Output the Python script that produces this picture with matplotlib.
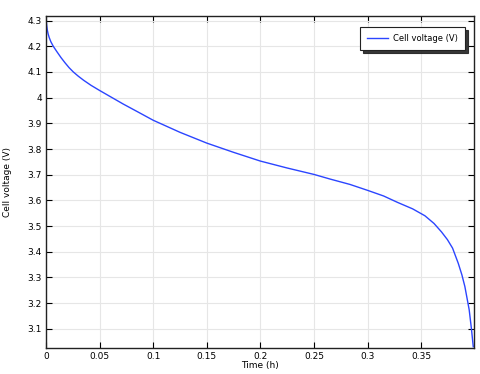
import matplotlib
matplotlib.use("Agg")
import matplotlib.pyplot as plt

# discharge curve
time_h = [0.0, 0.0003, 0.0007, 0.0012, 0.002, 0.003, 0.0045, 0.0068, 0.01,
          0.014, 0.0177, 0.0215, 0.0255, 0.03, 0.035, 0.042, 0.05, 0.06,
          0.0721, 0.085, 0.1, 0.125, 0.15, 0.175, 0.2, 0.225, 0.25,
          0.265, 0.2836, 0.3, 0.315, 0.328, 0.342, 0.3535, 0.362, 0.369,
          0.3745, 0.3793, 0.3846, 0.388, 0.3908, 0.3948, 0.397, 0.3986]
voltage = [4.318, 4.298, 4.28, 4.264, 4.248, 4.234, 4.218, 4.20, 4.18,
           4.156, 4.136, 4.117, 4.10, 4.084, 4.068, 4.048, 4.028, 4.004,
           3.975, 3.946, 3.912, 3.865, 3.823, 3.787, 3.753, 3.726, 3.701,
           3.683, 3.662, 3.639, 3.617, 3.592, 3.567, 3.54, 3.51, 3.477,
           3.447, 3.414, 3.355, 3.31, 3.264, 3.174, 3.096, 3.03]

x_ticks = [0, 0.05, 0.1, 0.15, 0.2, 0.25, 0.3, 0.35]
x_labels = ["0", "0.05", "0.1", "0.15", "0.2", "0.25", "0.3", "0.35"]
y_ticks = [3.1, 3.2, 3.3, 3.4, 3.5, 3.6, 3.7, 3.8, 3.9, 4.0, 4.1, 4.2, 4.3]
y_labels = ["3.1", "3.2", "3.3", "3.4", "3.5", "3.6", "3.7", "3.8", "3.9",
            "4", "4.1", "4.2", "4.3"]

fig = plt.figure(figsize=(4.81, 3.74), dpi=100)
ax = fig.add_axes([46 / 481, 1 - 348 / 374, 428 / 481, 332 / 374])

ax.plot(time_h, voltage, color="#2b45ff", lw=1.0, label="Cell voltage (V)")

ax.set_xlim(0, 0.3993)
ax.set_ylim(3.025, 4.318)
ax.set_xticks(x_ticks, x_labels)
ax.set_yticks(y_ticks, y_labels)
ax.tick_params(direction="in", top=True, right=True, labelsize=6.5,
               length=4, width=0.8, pad=3)
ax.grid(True, color="#e6e6e6", lw=0.8)
ax.set_axisbelow(True)
for s in ax.spines.values():
    s.set_linewidth(1.0)
    s.set_color("#222222")

ax.set_xlabel("Time (h)", fontsize=6.5, labelpad=0)
ax.set_ylabel("Cell voltage (V)", fontsize=6.5, labelpad=11)

# legend box: right edge ~465 px, top ~27 px
leg = ax.legend(loc="upper right", bbox_to_anchor=((465 - 46) / 428, (348 - 27) / 332),
                borderaxespad=0, fontsize=6, fancybox=False,
                shadow={"color": "#222222", "alpha": 0.9},
                framealpha=1, edgecolor="#222222", borderpad=0.85,
                handlelength=2.5, handletextpad=0.6)
leg.get_frame().set_linewidth(0.8)

fig.savefig("out.png", dpi=100)
